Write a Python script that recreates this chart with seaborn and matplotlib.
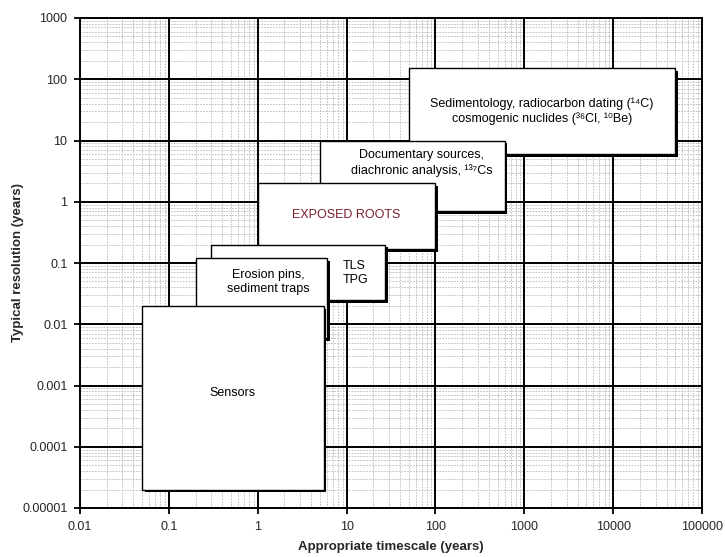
import matplotlib
matplotlib.use("Agg")
import matplotlib.pyplot as plt
import matplotlib.patheffects as pe
from matplotlib.ticker import FixedLocator, NullFormatter
import seaborn as sns

# method boxes: timescale extent (x) and resolution extent (y), in years
methods = ['Sedimentology', 'Documentary', 'Exposed roots', 'TLS/TPG', 'Erosion pins', 'Sensors']
x_left = [50, 5, 1, 0.3, 0.2, 0.05]
x_right = [50000, 600, 100, 27, 6, 5.5]
y_bottom = [6, 0.7, 0.17, 0.025, 0.006, 0.00002]
y_top = [150, 10, 2, 0.2, 0.12, 0.02]

labels = [
    'Sedimentology, radiocarbon dating (\u00b9\u2074C)\ncosmogenic nuclides (\u00b3\u2076Cl, \u00b9\u2070Be)',
    'Documentary sources,\ndiachronic analysis, \u00b9\u00b3\u2077Cs',
    'EXPOSED ROOTS',
    'TLS\nTPG',
    'Erosion pins,\nsediment traps',
    'Sensors',
]
label_x = [1580, 70, 10, 9, 1.3, 0.52]
label_y = [30, 4.3, 0.6, 0.069, 0.049, 0.00076]
label_ha = ['center', 'center', 'center', 'left', 'center', 'center']
label_color = ['black', 'black', '#7b1e2e', 'black', 'black', 'black']

x_ticks = [0.01, 0.1, 1, 10, 100, 1000, 10000, 100000]
x_ticklabels = ['0.01', '0.1', '1', '10', '100', '1000', '10000', '100000']
y_ticks = [0.00001, 0.0001, 0.001, 0.01, 0.1, 1, 10, 100, 1000]
y_ticklabels = ['0.00001', '0.0001', '0.001', '0.01', '0.1', '1', '10', '100', '1000']

# 2..9 subdivisions of each decade for the dotted grid
x_minor = [m * d for d in x_ticks[:-1] for m in range(2, 10)]
y_minor = [m * d for d in y_ticks[:-1] for m in range(2, 10)]

sns.set_theme(style='white')
plt.rcParams['font.family'] = ['Liberation Sans', 'DejaVu Sans']

fig = plt.figure(figsize=(7.25, 5.57), dpi=100)
ax = fig.add_axes([80 / 725, 1 - 508 / 557, 622 / 725, 490 / 557])
ax.set_xscale('log')
ax.set_yscale('log')
ax.set_xlim(0.01, 100000)
ax.set_ylim(0.00001, 1000)

ax.set_axisbelow(True)
ax.xaxis.set_major_locator(FixedLocator(x_ticks))
ax.yaxis.set_major_locator(FixedLocator(y_ticks))
ax.xaxis.set_minor_locator(FixedLocator(x_minor))
ax.yaxis.set_minor_locator(FixedLocator(y_minor))
ax.xaxis.set_minor_formatter(NullFormatter())
ax.yaxis.set_minor_formatter(NullFormatter())
ax.grid(which='minor', color='#b8b8b8', lw=0.6, ls=(0, (2, 1.5)))

# solid decade lines drawn over the dotted grid
for v in x_ticks[1:-1]:
    ax.axvline(v, color='black', lw=1.4, zorder=2)
for v in y_ticks[1:-1]:
    ax.axhline(v, color='black', lw=1.4, zorder=2)

shadow = [pe.SimplePatchShadow(offset=(2, -2), shadow_rgbFace='black', alpha=1), pe.Normal()]
for i in range(len(methods)):
    bars = ax.bar(x_left[i], y_top[i] - y_bottom[i], width=x_right[i] - x_left[i],
                  bottom=y_bottom[i], align='edge', color='white', edgecolor='black',
                  linewidth=1.0, zorder=3 + i)
    for b in bars:
        b.set_path_effects(shadow)
    ax.text(label_x[i], label_y[i], labels[i], ha=label_ha[i], va='center',
            fontsize=9, color=label_color[i], linespacing=1.25, zorder=3 + i,
            multialignment='center' if label_ha[i] == 'center' else 'left')

ax.set_xticklabels(x_ticklabels)
ax.set_yticklabels(y_ticklabels)
ax.tick_params(which='major', direction='out', length=4, width=1.3, color='black',
               labelsize=9, bottom=True, left=True, pad=5)
ax.tick_params(which='minor', length=0)

for s in ax.spines.values():
    s.set_color('black')
    s.set_linewidth(1.4)
    s.set_zorder(10)

ax.set_xlabel('Appropriate timescale (years)', fontsize=9.5, fontweight='bold', va='top')
ax.set_ylabel('Typical resolution (years)', fontsize=9.5, fontweight='bold', va='center')
ax.xaxis.set_label_coords(0.5, -0.068)
ax.yaxis.set_label_coords(-0.1, 0.5)

fig.savefig('out.png', dpi=100)
